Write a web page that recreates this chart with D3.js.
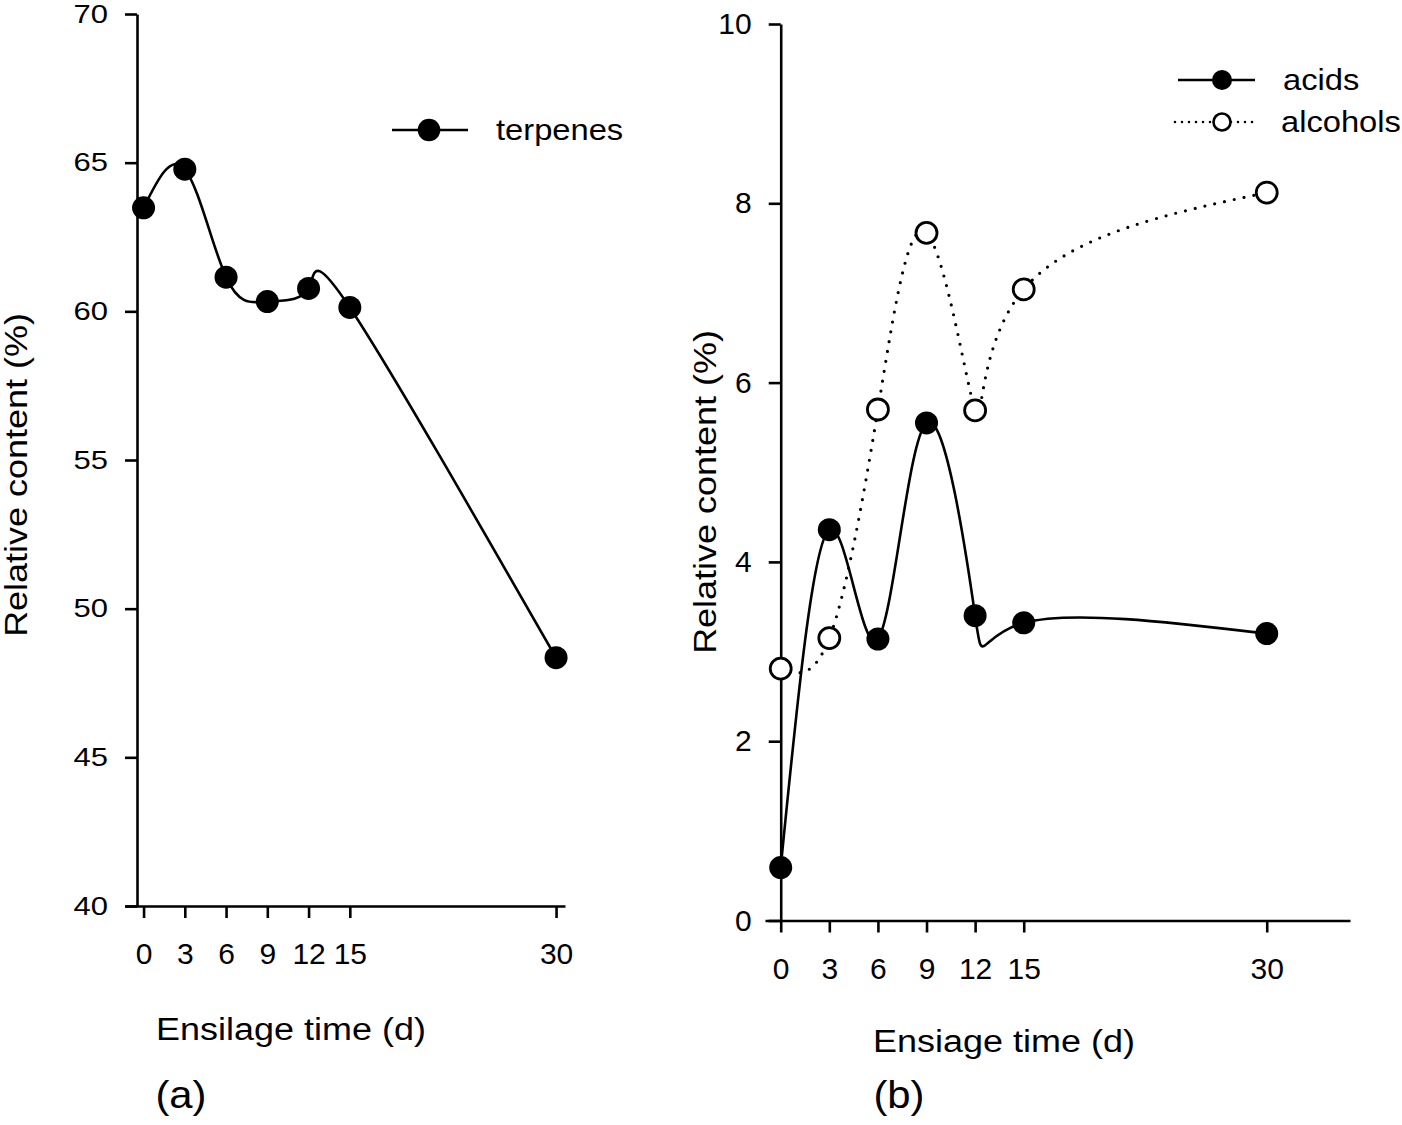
<!DOCTYPE html>
<html>
<head>
<meta charset="utf-8">
<script src="https://cdn.jsdelivr.net/npm/d3@7"></script>
<style>
  html, body { margin: 0; padding: 0; background: #fff; }
  svg { display: block; font-family: "Liberation Sans", Arial, Helvetica, sans-serif; }
  .axis path, .axis line { stroke: #000; stroke-width: 2.6; }
  .axis text { fill: #000; font-family: "Liberation Sans", Arial, sans-serif; }
  .yaxA text { font-size: 25px; transform-box: fill-box; transform-origin: 100% 50%; transform: scaleX(1.24); }
  .yaxB text { font-size: 30px; }
  .xax text { font-size: 30px; }
  .lbl { font-size: 31px; fill: #000; transform-box: fill-box; transform-origin: 50% 50%; transform: scaleX(1.16); }
  .pan { font-size: 38px; fill: #000; transform-box: fill-box; transform-origin: 50% 50%; transform: scaleX(1.1); }
  .leg { font-size: 30px; fill: #000; transform-box: fill-box; transform-origin: 0% 50%; transform: scaleX(1.09); }
</style>
</head>
<body>
<svg id="chart" width="1402" height="1125"></svg>
<script>
// ---- data ----
const days = [0, 3, 6, 9, 12, 15, 30];
const xTicks = [0, 3, 6, 9, 12, 15, 30];
const terpenes = [63.48, 64.78, 61.15, 60.33, 60.77, 60.13, 48.35];
const acids = [0.59, 4.36, 3.14, 5.55, 3.40, 3.32, 3.20];
const alcohols = [2.81, 3.15, 5.70, 7.67, 5.69, 7.04, 8.12];
const yTicksA = [40, 45, 50, 55, 60, 65, 70];
const yTicksB = [0, 2, 4, 6, 8, 10];

const svg = d3.select("#chart");
svg.append("rect").attr("width", 1402).attr("height", 1125).attr("fill", "#fff");

// ---------- Panel (a) ----------
const xA = d3.scaleLinear().domain([-1.35, 30.65]).range([125, 565]);
const yA = d3.scaleLinear().domain([40, 70]).range([906, 14]);
const yAxisXA = 137;

svg.append("g").attr("class", "axis yaxA").attr("transform", `translate(${yAxisXA},0)`)
  .call(d3.axisLeft(yA).tickValues(yTicksA).tickSize(12).tickPadding(17).tickSizeOuter(0).tickFormat(d3.format("d")));
svg.append("g").attr("class", "axis xax").attr("transform", `translate(0,${yA(40)})`)
  .call(d3.axisBottom(xA).tickValues(xTicks).tickSize(12).tickPadding(25).tickSizeOuter(0).tickFormat(d3.format("d")));

const lineA = d3.line().x((d, i) => xA(days[i])).y(d => yA(d)).curve(d3.curveNatural);
svg.append("path").attr("d", lineA(terpenes))
  .attr("fill", "none").attr("stroke", "#000").attr("stroke-width", 2.6);
svg.append("g").selectAll("circle").data(terpenes).join("circle")
  .attr("cx", (d, i) => xA(days[i])).attr("cy", d => yA(d)).attr("r", 11.5).attr("fill", "#000");

// legend (a)
svg.append("line").attr("x1", 392).attr("x2", 468).attr("y1", 130).attr("y2", 130).attr("stroke", "#000").attr("stroke-width", 2.6);
svg.append("circle").attr("cx", 429).attr("cy", 130).attr("r", 11.3).attr("fill", "#000");
svg.append("text").attr("class", "leg").attr("x", 496).attr("y", 130).attr("dy", "0.35em").text("terpenes");

// axis titles (a)
svg.append("text").attr("class", "lbl").attr("x", 291).attr("y", 1040).attr("text-anchor", "middle").text("Ensilage time (d)");
svg.append("text").attr("class", "pan").attr("x", 181).attr("y", 1108).attr("text-anchor", "middle").text("(a)");
svg.append("g").attr("transform", "translate(27,475) rotate(-90)")
  .append("text").attr("class", "lbl").attr("x", 0).attr("y", 0).attr("text-anchor", "middle").text("Relative content (%)");

// ---------- Panel (b) ----------
const xB = d3.scaleLinear().domain([-0.97, 35.14]).range([765, 1350]);
const yB = d3.scaleLinear().domain([0, 10]).range([920.5, 24]);

svg.append("g").attr("class", "axis yaxB").attr("transform", `translate(${xB(0)},0)`)
  .call(d3.axisLeft(yB).tickValues(yTicksB).tickSize(12).tickPadding(17).tickSizeOuter(0).tickFormat(d3.format("d")));
svg.append("g").attr("class", "axis xax").attr("transform", `translate(0,${yB(0)})`)
  .call(d3.axisBottom(xB).tickValues(xTicks).tickSize(12).tickPadding(25).tickSizeOuter(0).tickFormat(d3.format("d")));

const lineB = d3.line().x((d, i) => xB(days[i])).y(d => yB(d)).curve(d3.curveNatural);
svg.append("path").attr("d", lineB(alcohols))
  .attr("fill", "none").attr("stroke", "#000").attr("stroke-width", 3.2)
  .attr("stroke-linecap", "round").attr("stroke-dasharray", "0 10");
svg.append("path").attr("d", lineB(acids))
  .attr("fill", "none").attr("stroke", "#000").attr("stroke-width", 2.6);

svg.append("g").selectAll("circle").data(alcohols).join("circle")
  .attr("cx", (d, i) => xB(days[i])).attr("cy", d => yB(d)).attr("r", 10.5)
  .attr("fill", "#fff").attr("stroke", "#000").attr("stroke-width", 2.8);
svg.append("g").selectAll("circle").data(acids).join("circle")
  .attr("cx", (d, i) => xB(days[i])).attr("cy", d => yB(d)).attr("r", 11.5).attr("fill", "#000");

// legend (b)
svg.append("line").attr("x1", 1178).attr("x2", 1255).attr("y1", 80).attr("y2", 80).attr("stroke", "#000").attr("stroke-width", 2.6);
svg.append("circle").attr("cx", 1222).attr("cy", 80).attr("r", 10).attr("fill", "#000");
svg.append("text").attr("class", "leg").attr("x", 1283).attr("y", 80).attr("dy", "0.35em").text("acids");
svg.append("line").attr("x1", 1175).attr("x2", 1257).attr("y1", 122).attr("y2", 122).attr("stroke", "#000").attr("stroke-width", 2.6)
  .attr("stroke-linecap", "round").attr("stroke-dasharray", "0 7");
svg.append("circle").attr("cx", 1222).attr("cy", 122).attr("r", 8.5).attr("fill", "#fff").attr("stroke", "#000").attr("stroke-width", 2.6);
svg.append("text").attr("class", "leg").attr("x", 1281).attr("y", 122).attr("dy", "0.35em").text("alcohols");

svg.append("text").attr("class", "lbl").attr("x", 1004).attr("y", 1052).attr("text-anchor", "middle").text("Ensiage time (d)");
svg.append("text").attr("class", "pan").attr("x", 899).attr("y", 1108).attr("text-anchor", "middle").text("(b)");
svg.append("g").attr("transform", "translate(716,492) rotate(-90)")
  .append("text").attr("class", "lbl").attr("x", 0).attr("y", 0).attr("text-anchor", "middle").text("Relative content (%)");
</script>
</body>
</html>
